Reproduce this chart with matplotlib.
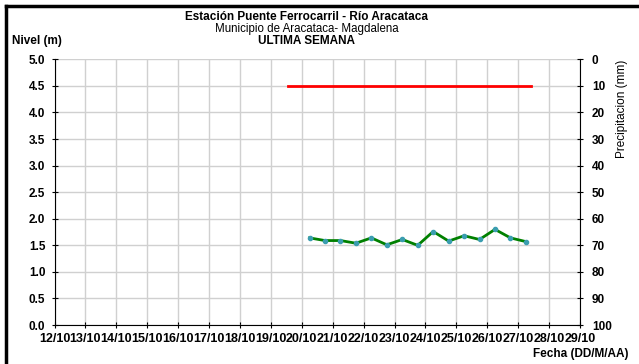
import matplotlib
matplotlib.use("Agg")
import matplotlib.pyplot as plt
import matplotlib.dates as mdates
from matplotlib.lines import Line2D
from datetime import datetime

plt.rcParams['font.family'] = ['Liberation Sans', 'DejaVu Sans']

# nivel del rio, cada 12 horas
fechas = ["2010-10-20 06:00", "2010-10-20 18:00", "2010-10-21 06:00", "2010-10-21 18:00",
          "2010-10-22 06:00", "2010-10-22 18:00", "2010-10-23 06:00", "2010-10-23 18:00",
          "2010-10-24 06:00", "2010-10-24 18:00", "2010-10-25 06:00", "2010-10-25 18:00",
          "2010-10-26 06:00", "2010-10-26 18:00", "2010-10-27 06:00"]
nivel = [1.64, 1.59, 1.59, 1.54, 1.64, 1.51, 1.61, 1.50, 1.76, 1.58, 1.68, 1.61, 1.80, 1.64, 1.57]

# linea roja de alerta
alerta_fechas = ["2010-10-19 13:30", "2010-10-27 10:00"]
alerta_nivel = [4.5, 4.5]

x_min, x_max = "2010-10-12", "2010-10-29"
precip_ticks = [0, 10, 20, 30, 40, 50, 60, 70, 80, 90, 100]

to_dt = lambda s: datetime.strptime(s, "%Y-%m-%d %H:%M") if " " in s else datetime.strptime(s, "%Y-%m-%d")

fig = plt.figure(figsize=(6.39, 3.64), dpi=100)
ax = fig.add_axes([0.0853, 0.107, 0.8224, 0.730])

ax.plot([to_dt(f) for f in alerta_fechas], alerta_nivel, color="#ff0000", lw=2)
ax.plot([to_dt(f) for f in fechas], nivel, color="#008000", lw=2,
        marker="o", markersize=3, markerfacecolor="#3b9db0", markeredgecolor="#3b9db0")

ax.set_xlim(to_dt(x_min), to_dt(x_max))
ax.set_ylim(0, 5)
ax.set_yticks([i * 0.5 for i in range(11)])
ax.yaxis.set_major_formatter(matplotlib.ticker.FormatStrFormatter("%.1f"))
ax.xaxis.set_major_locator(mdates.DayLocator())
ax.xaxis.set_major_formatter(matplotlib.ticker.FuncFormatter(
    lambda v, p: "%d/%d" % (mdates.num2date(v).day, mdates.num2date(v).month)))
ax.grid(True, color="#d0d0d0", lw=1)
ax.set_axisbelow(True)

ax.tick_params(axis="both", direction="inout", length=5, width=0.8, labelsize=8.5)
ax.tick_params(axis="x", pad=3.5)
ax.tick_params(axis="y", pad=4)
for lab in ax.get_xticklabels() + ax.get_yticklabels():
    lab.set_fontweight("bold")
for lab in ax.get_xticklabels():
    lab.set_fontsize(9)
ax.spines["top"].set_visible(False)
ax.spines["right"].set_visible(False)

ax2 = ax.twinx()
ax2.set_ylim(100, 0)
ax2.set_yticks(precip_ticks)
ax2.tick_params(axis="y", direction="inout", length=5, width=0.8, pad=6, labelsize=8.5)
for lab in ax2.get_yticklabels():
    lab.set_fontweight("bold")
for s in ["top", "left", "bottom"]:
    ax2.spines[s].set_visible(False)

fig.text(0.48, 0.953, "Estación Puente Ferrocarril - Río Aracataca", ha="center", va="center",
         fontsize=8.5, fontweight="bold")
fig.text(0.48, 0.920, "Municipio de Aracataca- Magdalena", ha="center", va="center", fontsize=8.3)
fig.text(0.48, 0.886, "ULTIMA SEMANA", ha="center", va="center", fontsize=8.5, fontweight="bold")
fig.text(0.019, 0.888, "Nivel (m)", ha="left", va="center", fontsize=8.5, fontweight="bold")
fig.text(0.983, 0.028, "Fecha (DD/M/AA)", ha="right", va="center", fontsize=8.5, fontweight="bold")
fig.text(0.973, 0.837, "Precipitacion (mm)", ha="center", va="top", rotation=90, fontsize=8.5)

# marco del grafico
fig.add_artist(Line2D([0.0094, 0.0094], [0, 0.983], color="black", lw=2.5))
fig.add_artist(Line2D([0.0094, 1.0], [0.983, 0.983], color="black", lw=2.5))

fig.savefig("out.png", dpi=100)
